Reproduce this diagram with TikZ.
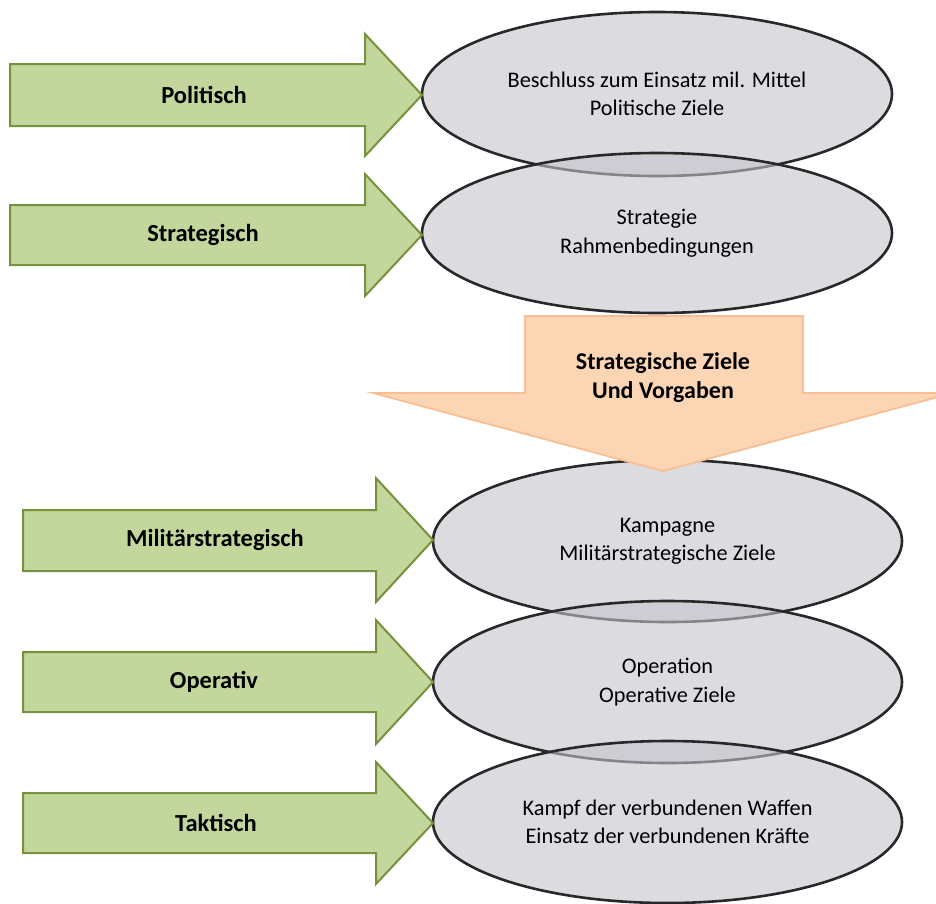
\documentclass[tikz,border=0pt]{standalone}
\usepackage{fontspec}
\setmainfont{Carlito}
\usetikzlibrary{shapes.geometric}
\definecolor{grfill}{RGB}{195,214,155}
\definecolor{grline}{RGB}{118,146,60}
\definecolor{orfill}{RGB}{252,213,180}
\definecolor{orline}{RGB}{249,190,145}
\definecolor{elfill}{RGB}{196,195,202}
\definecolor{elline}{RGB}{40,40,40}
\tikzset{
  greenarrow/.style={fill=grfill,draw=grline,line width=2pt,line join=miter},
  orangearrow/.style={fill=orfill,draw=orline,line width=1.8pt,line join=miter},
  oval/.style={ellipse,draw=elline,line width=2.6pt,fill=elfill,fill opacity=0.6,
    draw opacity=1,text opacity=1,minimum width=470pt,minimum height=162pt,inner sep=0pt,
    align=center,font=\fontsize{22.3}{28.5}\selectfont},
  lbl/.style={font=\fontsize{24.5}{28}\selectfont\bfseries,align=center,inner sep=0pt}
}
\begin{document}
\begin{tikzpicture}[x=1pt,y=-1pt]
\useasboundingbox (0,0) rectangle (936,903);
\clip (0,0) rectangle (936,903);
% ellipses
\node[oval,minimum height=164pt] (e1) at (657,94) {Beschluss zum Einsatz mil. Mittel\\Politische Ziele};
\node[oval,minimum height=160pt] (e2) at (657,233) {Strategie\\Rahmenbedingungen};
\node[oval,minimum width=469pt] (e3) at (667.5,541) {Kampagne\\Militärstrategische Ziele};
\node[oval,minimum width=469pt] (e4) at (667.5,682) {Operation\\Operative Ziele};
\node[oval,minimum width=469pt] (e5) at (667.5,822) {Kampf der verbundenen Waffen\\Einsatz der verbundenen Kräfte};
% green arrows
\path[greenarrow] (10,64) -- (365,64) -- (365,34) -- (422,95) -- (365,156) -- (365,126) -- (10,126) -- cycle;
\node[lbl] (a1) at (204,95) {Politisch};
\path[greenarrow] (10,205) -- (365,205) -- (365,174) -- (422,235) -- (365,296) -- (365,265) -- (10,265) -- cycle;
\node[lbl] (a2) at (203,235) {Strategisch};
\path[greenarrow] (23,510) -- (376,510) -- (376,478) -- (433,540) -- (376,602) -- (376,571) -- (23,571) -- cycle;
\node[lbl] (a3) at (215,540) {Militärstrategisch};
\path[greenarrow] (23,652) -- (376,652) -- (376,620) -- (433,682) -- (376,744) -- (376,712) -- (23,712) -- cycle;
\node[lbl] (a4) at (214,682) {Operativ};
\path[greenarrow] (23,793) -- (376,793) -- (376,762) -- (433,823) -- (376,884) -- (376,853) -- (23,853) -- cycle;
\node[lbl] (a5) at (216,823) {Taktisch};
% orange arrow
\path[orangearrow] (525,316) -- (803,316) -- (803,393) -- (953,393) -- (663,471) -- (373,393) -- (525,393) -- cycle;
\node[lbl,font=\fontsize{24}{29}\selectfont\bfseries] (o1) at (663,378) {Strategische Ziele\\Und Vorgaben};
\end{tikzpicture}
\end{document}
